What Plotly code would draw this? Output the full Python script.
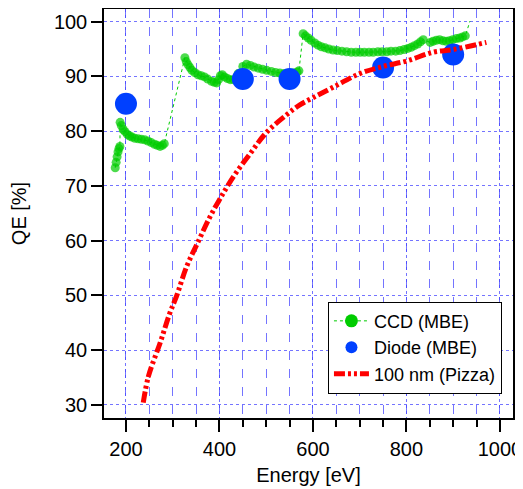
import plotly.graph_objects as go

# CCD (MBE) measured QE
ccd_energy = [177, 179, 181, 183, 185, 187,
              187.5, 190, 194, 198, 203, 208, 213, 219, 226, 233, 240, 247, 254, 261, 267, 273, 278, 282,
              326, 329, 333, 337, 341, 347, 354, 361, 368, 375, 383, 389, 394, 398, 402, 406, 411, 417, 423,
              430, 440, 450, 458, 466, 474, 483, 492, 501, 511, 520, 529, 538, 548, 558, 566, 570,
              579, 584, 590, 596, 604, 611, 618, 626, 634, 643, 652, 662, 672, 682, 692, 701, 710, 720,
              729, 739, 748, 758, 767, 777, 786, 795, 803, 810, 817, 824, 830, 836,
              851, 857, 864, 871, 878, 885, 892, 899, 907, 914, 920, 926,
              936]
ccd_qe = [73.3, 74.3, 75.3, 76.2, 76.8, 77.2,
          81.6, 81.0, 80.3, 79.9, 79.4, 79.1, 78.9, 78.7, 78.6, 78.5, 78.4, 78.2, 77.9, 77.6, 77.4, 77.2, 77.4, 77.7,
          93.4, 92.7, 92.1, 91.6, 91.1, 90.7, 90.3, 90.1, 89.9, 89.5, 89.1, 88.9, 88.8, 89.4, 90.1, 90.3, 89.9, 89.6, 89.4,
          89.4, 90.5, 91.8, 92.2, 92.0, 91.7, 91.5, 91.3, 91.1, 90.9, 90.7, 90.6, 90.5, 90.5, 90.6, 90.8, 91.0,
          97.8, 97.4, 97.0, 96.6, 96.1, 95.7, 95.4, 95.2, 95.0, 94.8, 94.7, 94.6, 94.5, 94.4, 94.4, 94.4, 94.4, 94.4,
          94.4, 94.5, 94.5, 94.5, 94.6, 94.6, 94.7, 94.9, 95.1, 95.3, 95.6, 95.9, 96.3, 96.7,
          96.2, 96.4, 96.6, 96.7, 96.5, 96.4, 96.5, 96.7, 96.9, 97.0, 97.2, 97.4,
          100.1]

# Diode (MBE)
diode_energy = [200, 450, 550, 750, 900]
diode_qe = [85.0, 89.5, 89.5, 91.6, 94.0]

# 100 nm (Pizza) model
pizza_energy = [237, 248, 273, 294, 308, 330, 355, 380, 401, 430, 465, 500, 544, 572, 600,
                643, 700, 750, 800, 857, 900, 971]
pizza_qe = [30.4, 35.2, 41.3, 46.8, 49.8, 55.3, 59.9, 64.4, 67.6, 71.7, 75.8, 79.7, 83.0, 84.8, 86.1,
            88.0, 90.5, 91.8, 92.8, 94.4, 94.9, 96.2]

x_ticks = [200, 400, 600, 800, 1000]
y_ticks = [30, 40, 50, 60, 70, 80, 90, 100]

FONT = "Liberation Sans, Arial, sans-serif"
GREEN = "#00cc00"
BLUE = "#0040ff"
RED = "#ff0000"
GRID = "rgba(70,70,255,0.75)"
X_RANGE = [153, 1028]

ccd_sizes = [9] * (len(ccd_energy) - 1) + [0]

fig = go.Figure()
fig.add_trace(go.Scatter(
    x=ccd_energy, y=ccd_qe, mode="lines+markers", name="CCD (MBE)", showlegend=False,
    line=dict(color=GREEN, width=1, dash="dot"),
    marker=dict(color=GREEN, size=ccd_sizes, line=dict(width=0)),
))
fig.add_trace(go.Scatter(
    x=diode_energy, y=diode_qe, mode="markers", name="Diode (MBE)", showlegend=False,
    marker=dict(color=BLUE, size=22, line=dict(width=0)),
))
fig.add_trace(go.Scatter(
    x=pizza_energy, y=pizza_qe, mode="lines", name="100 nm (Pizza)", showlegend=False,
    line=dict(color=RED, width=5, dash="11px,3px,3px,3px,3px,3px", shape="spline"),
))
# legend entries (empty traces carrying only the legend styling)
fig.add_trace(go.Scatter(
    x=[None], y=[None], mode="lines+markers", name="CCD (MBE)",
    line=dict(color=GREEN, width=1, dash="dot"),
    marker=dict(color=GREEN, size=13, line=dict(width=0)),
))
fig.add_trace(go.Scatter(
    x=[None], y=[None], mode="markers", name="Diode (MBE)",
    marker=dict(color=BLUE, size=12, line=dict(width=0)),
))
fig.add_trace(go.Scatter(
    x=[None], y=[None], mode="lines", name="100 nm (Pizza)",
    line=dict(color=RED, width=5, dash="11px,3px,3px,3px,3px,3px"),
))

fig.update_layout(
    width=515, height=481,
    margin=dict(l=96, r=10, t=1, b=71, autoexpand=False),
    paper_bgcolor="white", plot_bgcolor="white",
    font=dict(family=FONT, size=20, color="black"),
    showlegend=True,
    legend=dict(
        x=0.973, y=0.172, xanchor="right", yanchor="middle",
        bgcolor="white", bordercolor="black", borderwidth=1,
        font=dict(family=FONT, size=18, color="black"),
        traceorder="normal", itemwidth=35, tracegroupgap=0,
    ),
    xaxis2=dict(
        overlaying="x", side="top", anchor="y", matches="x", range=X_RANGE,
        showticklabels=False, showgrid=False, zeroline=False, showline=False,
        tickvals=x_ticks, ticks="outside", ticklen=10, tickwidth=1.5, tickcolor="black",
        minor=dict(dtick=50, tick0=0, ticks="outside", ticklen=6, tickwidth=1.5,
                   tickcolor="black", showgrid=False),
        automargin=False,
    ),
)

fig.layout.xaxis.update(
    range=X_RANGE, tickvals=x_ticks, ticktext=[str(v) for v in x_ticks],
    showline=True, linecolor="black", linewidth=1.5, mirror=True,
    ticks="outside", ticklen=12, tickwidth=1.5, tickcolor="black",
    showgrid=True, gridcolor=GRID, griddash="dot", gridwidth=1,
    zeroline=False, automargin=False,
    minor=dict(dtick=50, tick0=0, ticks="outside", ticklen=7, tickwidth=1.5, tickcolor="black",
               showgrid=True, gridcolor=GRID, griddash="dash", gridwidth=1),
    title=dict(text="Energy [eV]", font=dict(family=FONT, size=20), standoff=9),
    tickfont=dict(family=FONT, size=20),
)
fig.layout.yaxis.update(
    range=[27.6, 102.3], tickvals=y_ticks, ticktext=[str(v) for v in y_ticks],
    showline=True, linecolor="black", linewidth=1.5, mirror="ticks",
    ticks="outside", ticklen=11, tickwidth=1.5, tickcolor="black",
    showgrid=True, gridcolor=GRID, griddash="dot", gridwidth=1,
    zeroline=False, automargin=False,
    title=dict(text="QE [%]", font=dict(family=FONT, size=20), standoff=22),
    tickfont=dict(family=FONT, size=20),
)

fig.write_html("out.html")
